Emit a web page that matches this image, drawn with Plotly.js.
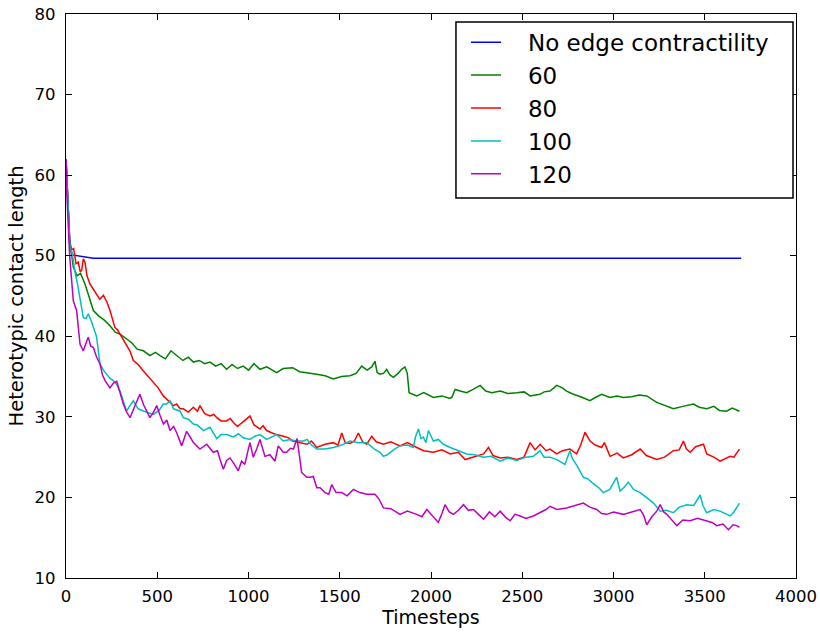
<!DOCTYPE html>
<html>
<head>
<meta charset="utf-8">
<script src="https://cdn.plot.ly/plotly-3.0.1.min.js"></script>
<style>html,body{margin:0;padding:0;background:#fff;}#chart{width:820px;height:634px;}</style>
</head>
<body>
<div id="chart"></div>
<script>
// Series names
const seriesNames = ["No edge contractility", "60", "80", "100", "120"];

// No edge contractility
const tBlue = [0, 10, 20, 33, 60, 106, 150, 1000, 2000, 3000, 3700];
const vBlue = [62, 56, 52, 50.1, 50.0, 49.9, 49.7, 49.7, 49.7, 49.7, 49.7];

// 60
const tGreen = [0,10,20,40,60,80,104,125,150,180,210,241,270,300,332,360,390,424,460,490,515,545,575,606,640,670,698,730,760,789,820,850,880,910,940,971,1000,1030,1063,1100,1130,1154,1190,1242,1280,1321,1374,1420,1465,1510,1556,1590,1620,1650,1675,1693,1705,1720,1740,1757,1775,1794,1820,1839,1857,1870,1880,1900,1922,1960,2013,2060,2100,2114,2132,2160,2196,2230,2269,2300,2333,2380,2420,2470,2510,2543,2597,2620,2652,2689,2720,2743,2780,2820,2871,2900,2935,2980,3020,3054,3100,3140,3182,3237,3280,3328,3380,3438,3470,3511,3550,3580,3620,3650,3690];
const vGreen = [62,56,52,48.6,47.5,47.8,46.5,45.0,43.2,42.5,42.0,41.3,40.5,40.2,39.7,39.2,38.4,38.2,37.6,38.0,37.6,37.2,38.2,37.6,37.0,37.4,36.8,37.0,36.6,36.8,36.3,36.6,35.9,36.5,36.0,36.3,35.8,36.6,35.9,36.2,35.8,35.5,36.0,36.1,35.6,35.5,35.3,35.1,34.7,35.0,35.1,35.4,36.3,35.8,36.2,36.9,35.5,35.3,35.4,35.9,35.2,34.9,35.4,35.9,36.2,35.4,33.0,32.8,32.6,33.0,32.4,32.6,32.3,32.4,33.4,33.2,33.0,33.4,33.9,33.2,33.0,33.2,32.9,33.0,33.1,32.6,32.8,33.1,33.2,33.9,33.6,33.2,32.8,32.5,32.0,32.4,32.8,32.4,32.6,32.4,32.5,32.7,32.6,31.8,31.4,31.0,31.3,31.6,31.2,31.0,31.3,30.8,30.7,31.1,30.7];

// 80
const tRed = [0,10,22,42,55,67,78,86,95,104,115,131,150,168,185,205,225,241,255,268,282,296,315,332,350,369,395,424,450,479,505,533,560,589,606,625,643,670,698,720,734,760,789,810,826,850,880,900,917,940,960,980,1008,1030,1063,1080,1099,1130,1154,1191,1220,1242,1282,1321,1345,1374,1420,1465,1490,1511,1530,1556,1580,1602,1625,1648,1675,1700,1739,1780,1830,1870,1922,1960,2013,2060,2105,2150,2187,2230,2288,2315,2340,2379,2420,2470,2510,2543,2570,2598,2630,2652,2689,2720,2761,2798,2820,2844,2860,2871,2900,2935,2950,2981,3020,3054,3100,3146,3180,3237,3280,3328,3360,3383,3400,3420,3450,3493,3511,3550,3584,3610,3639,3660,3690];
const vRed = [62,57,50.6,50.9,49.0,49.2,48.0,48.2,49.6,49.2,47.5,46.5,45.8,45.1,44.6,45.1,44.2,43.2,42.0,41.1,40.8,40.3,39.6,39.0,38.2,37.0,36.5,35.7,35.0,34.3,33.6,32.6,32.0,31.4,31.6,31.0,31.0,30.6,31.2,30.7,31.4,30.4,30.1,30.3,29.9,29.5,29.5,29.8,29.3,28.8,29.2,29.6,30.1,29.0,28.5,28.9,28.3,28.0,27.8,27.6,27.4,27.0,26.8,26.6,27.0,26.2,26.6,26.8,26.5,28.0,26.8,26.7,27.0,28.0,26.9,26.6,27.6,26.9,26.6,26.9,26.4,26.8,26.2,25.8,25.6,25.9,25.4,25.6,24.7,25.0,25.4,26.2,25.2,24.9,25.0,24.7,25.0,26.8,25.9,26.6,25.8,26.0,25.4,25.8,26.0,25.4,26.5,28.1,27.4,27.0,26.5,26.2,26.8,25.1,25.5,24.9,25.3,26.0,25.2,24.7,25.0,25.8,25.9,27.0,26.0,25.6,26.3,26.6,25.4,25.0,24.5,24.8,25.1,25.0,26.0];

// 100
const tCyan = [0,10,22,35,49,63,77,95,110,122,140,150,168,178,186,205,223,240,259,278,296,315,332,350,369,395,424,450,479,510,533,552,570,589,625,643,670,698,720,753,789,826,850,880,917,945,971,1008,1035,1063,1099,1130,1154,1190,1228,1260,1300,1321,1340,1374,1420,1465,1510,1556,1600,1648,1690,1720,1739,1760,1800,1830,1870,1903,1915,1931,1945,1958,1972,1986,2000,2013,2040,2068,2105,2150,2196,2240,2288,2330,2379,2420,2470,2520,2561,2597,2620,2652,2689,2734,2761,2775,2798,2835,2860,2889,2920,2944,2980,3017,3036,3060,3081,3110,3146,3180,3219,3256,3290,3328,3360,3402,3440,3475,3490,3511,3550,3584,3610,3639,3660,3690];
const vCyan = [62,56,51,50.2,48,46.5,44.4,42.3,42.2,42.8,41.8,41.1,39.9,38.0,36.6,35.8,35.3,34.8,34.5,34.0,33.2,32.0,30.7,31.4,32.0,31.0,30.7,30.5,30.3,30.8,31.6,31.6,32.0,31.0,30.7,29.9,29.7,29.1,29.0,28.3,28.7,27.3,27.8,27.8,27.5,27.9,27.4,27.2,27.6,27.8,27.2,27.5,27.8,27.0,27.2,27.0,27.0,27.2,26.6,26.0,26.0,26.2,26.5,27.0,26.8,26.8,26.0,25.6,25.1,25.3,26.0,26.4,26.5,26.2,27.5,28.5,27.3,27.5,26.8,28.3,27.6,27.0,27.2,26.6,26.2,25.8,25.4,25.3,25.0,25.1,24.5,24.9,24.6,25.0,25.1,25.8,25.0,25.0,24.7,24.1,25.8,24.8,24.0,22.5,22.3,21.7,21.2,20.6,21.0,22.5,20.8,21.3,21.9,21.0,20.6,20.0,19.3,18.3,18.4,18.1,18.8,19.1,19.0,20.3,19.0,18.1,18.5,18.3,18.0,17.7,18.2,19.3];

// 120
const tMagenta = [0,4,20,40,58,77,95,110,122,135,150,168,186,200,214,241,260,278,296,314,332,351,380,405,425,442,460,480,497,515,534,552,570,590,607,634,661,680,698,734,771,807,830,844,862,880,899,920,944,962,980,995,1008,1026,1045,1063,1090,1117,1145,1163,1190,1209,1230,1246,1266,1280,1291,1319,1337,1355,1374,1392,1420,1440,1456,1480,1511,1540,1575,1610,1648,1693,1715,1739,1780,1830,1870,1922,1950,1977,2010,2040,2060,2077,2100,2123,2150,2178,2205,2233,2260,2288,2320,2350,2379,2410,2434,2460,2489,2520,2561,2597,2630,2652,2690,2743,2790,2835,2870,2908,2935,2962,3000,3054,3100,3146,3165,3182,3210,3237,3256,3275,3292,3320,3347,3380,3420,3460,3511,3540,3566,3600,3630,3655,3675,3690];
const vMagenta = [62,58,50,44.4,43.2,39.0,38.2,39.2,39.9,38.8,38.6,37.4,36.6,35.2,34.5,33.6,34.2,34.4,33.0,31.6,30.6,29.9,31.5,32.8,31.5,30.7,29.9,30.6,31.4,30.2,29.1,29.6,28.3,28.8,28.0,26.4,28.2,27.5,26.8,26.0,26.6,25.6,25.8,24.7,23.5,24.6,24.9,24.2,23.3,24.5,24.1,25.6,26.8,25.0,26.0,27.2,25.1,25.3,24.5,26.4,25.6,25.6,26.1,26.0,27.3,25.0,23.1,22.5,22.5,22.6,21.2,21.2,20.6,20.4,21.6,20.6,20.6,20.2,21.0,20.6,20.4,20.4,19.8,18.7,18.6,17.9,18.3,17.9,17.6,18.5,17.6,16.9,18.0,19.1,18.2,17.9,18.4,19.1,18.4,18.5,17.9,17.3,18.2,17.6,18.3,17.5,17.1,17.9,17.7,17.4,17.7,18.1,18.5,18.9,18.5,18.7,19.0,19.3,18.8,18.5,18.0,17.9,18.2,17.9,18.2,18.5,17.8,16.6,17.6,18.3,19.1,18.2,17.9,17.2,16.5,17.2,17.1,17.4,17.1,16.9,16.5,16.7,16.0,16.6,16.5,16.3];

const xTicks = [0, 500, 1000, 1500, 2000, 2500, 3000, 3500, 4000];
const yTicks = [10, 20, 30, 40, 50, 60, 70, 80];

const colors = ["#0000ff", "#008000", "#ff0000", "#00bfbf", "#bf00bf"];
const xs = [tBlue, tGreen, tRed, tCyan, tMagenta];
const ys = [vBlue, vGreen, vRed, vCyan, vMagenta];

const traces = seriesNames.map((n, i) => ({
  type: "scatter", mode: "lines", name: "\u00a0\u00a0\u00a0" + n, x: xs[i], y: ys[i],
  line: {color: colors[i], width: 1.5}
}));

const font = {family: "DejaVu Sans, sans-serif", color: "#000"};
const axisCommon = {
  showgrid: false, zeroline: false, showline: true, linecolor: "#000", linewidth: 1.3,
  mirror: "ticks", ticks: "inside", ticklen: 6, tickwidth: 1, tickcolor: "#000",
  tickfont: {family: font.family, size: 16.5, color: "#000"}
};

const layout = {
  width: 820, height: 634,
  margin: {l: 66, r: 24, t: 14, b: 56, autoexpand: false},
  paper_bgcolor: "#fff", plot_bgcolor: "#fff",
  font: font,
  showlegend: true,
  xaxis: Object.assign({}, axisCommon, {
    range: [0, 4000], tickvals: xTicks, ticktext: xTicks.map(String),
    ticklabelstandoff: 3,
    title: {text: "Timesteps", font: {family: font.family, size: 19, color: "#000"}, standoff: 5}
  }),
  yaxis: Object.assign({}, axisCommon, {
    range: [10, 80], tickvals: yTicks, ticktext: yTicks.map(String),
    ticklabelstandoff: 6,
    title: {text: "Heterotypic contact length", font: {family: font.family, size: 19.5, color: "#000"}, standoff: 5}
  }),
  legend: {
    x: 0.548, y: 0.988, xanchor: "left", yanchor: "top",
    bgcolor: "rgba(0,0,0,0)", borderwidth: 0,
    font: {family: font.family, size: 23, color: "#000"},
    itemwidth: 30, tracegroupgap: 0
  },
  shapes: [{
    type: "rect", xref: "paper", yref: "paper",
    x0: 0.5342, x1: 0.9959, y0: 0.6738, y1: 0.9858,
    line: {color: "#000", width: 1.5}, fillcolor: "#fff", layer: "above"
  }]
};

Plotly.newPlot("chart", traces, layout, {staticPlot: true});
</script>
</body>
</html>
